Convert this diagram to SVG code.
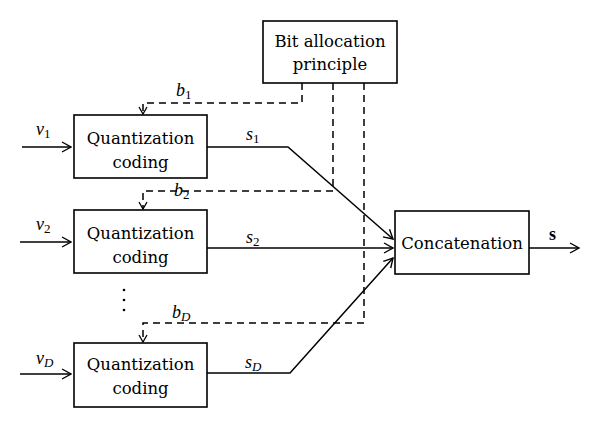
<svg xmlns="http://www.w3.org/2000/svg" width="600" height="428" viewBox="0 0 600 428">
<defs>
<marker id="arr" viewBox="0 0 12 12" refX="11" refY="6" markerWidth="12" markerHeight="12" markerUnits="userSpaceOnUse" orient="auto">
<path d="M2,1 L11,6 L2,11" fill="none" stroke="#000" stroke-width="1.4"/>
</marker>
<marker id="arrs" viewBox="0 0 10 10" refX="9" refY="5" markerWidth="10" markerHeight="10" markerUnits="userSpaceOnUse" orient="auto">
<path d="M2,1 L9,5 L2,9" fill="none" stroke="#000" stroke-width="1.3"/>
</marker>
</defs>
<style>
.box{fill:#fff;stroke:#000;stroke-width:1.6}
.nodetext{font-size:16.5px;fill:#000;text-anchor:middle}
.m{font-size:18px;font-style:italic;fill:#000}
.sub{font-size:13px;font-style:normal}
.subi{font-size:13px}
.solid{fill:none;stroke:#000;stroke-width:1.5}
.dash{fill:none;stroke:#000;stroke-width:1.5;stroke-dasharray:7,5}
</style>
<rect width="600" height="428" fill="#fff"/>
<g id="connectors" font-family="Liberation Serif, serif">
<path class="solid" d="M22,147 H71" marker-end="url(#arr)"/>
<path class="solid" d="M20,242 H71" marker-end="url(#arr)"/>
<path class="solid" d="M20,374 H71" marker-end="url(#arr)"/>
<path class="solid" d="M207,147 H288 L393,239" marker-end="url(#arr)"/>
<path class="solid" d="M207,248 H393" marker-end="url(#arr)"/>
<path class="solid" d="M207,373 H290 L393,258" marker-end="url(#arr)"/>
<path class="solid" d="M529,248 H579" marker-end="url(#arr)"/>
<path class="dash" d="M302,83 V103 H143 V114" marker-end="url(#arrs)"/>
<path class="dash" d="M333,83 V191 H143 V209" marker-end="url(#arrs)"/>
<path class="dash" d="M364,83 V323 H143 V342" marker-end="url(#arrs)"/>
<circle cx="124" cy="290" r="1.3" fill="#000"/>
<circle cx="124" cy="300" r="1.3" fill="#000"/>
<circle cx="124" cy="310" r="1.3" fill="#000"/>
<text class="m" x="176" y="96">b<tspan class="sub" dy="3">1</tspan></text>
<text class="m" x="174" y="196">b<tspan class="sub" dy="3">2</tspan></text>
<text class="m" x="172" y="318">b<tspan class="subi" dy="3">D</tspan></text>
<text class="m" x="246" y="140">s<tspan class="sub" dy="3">1</tspan></text>
<text class="m" x="246" y="243">s<tspan class="sub" dy="3">2</tspan></text>
<text class="m" x="245" y="368">s<tspan class="subi" dy="3">D</tspan></text>
<text class="m" x="36" y="135">v<tspan class="sub" dy="3">1</tspan></text>
<text class="m" x="36" y="230">v<tspan class="sub" dy="3">2</tspan></text>
<text class="m" x="36" y="364">v<tspan class="subi" dy="3">D</tspan></text>
<text x="549" y="240" font-size="18" font-weight="bold">s</text>
</g>
<g id="bit-allocation" font-family="DejaVu Serif, serif">
<rect class="box" x="263" y="21" width="134" height="62"/>
<text class="nodetext" x="330" y="47">Bit allocation</text>
<text class="nodetext" x="330" y="70">principle</text>
</g>
<g id="quant1" font-family="DejaVu Serif, serif">
<rect class="box" x="74" y="115" width="133" height="63"/>
<text class="nodetext" x="140.5" y="144">Quantization</text>
<text class="nodetext" x="140.5" y="168">coding</text>
</g>
<g id="quant2" font-family="DejaVu Serif, serif">
<rect class="box" x="74" y="210" width="133" height="63"/>
<text class="nodetext" x="140.5" y="239">Quantization</text>
<text class="nodetext" x="140.5" y="263">coding</text>
</g>
<g id="quantD" font-family="DejaVu Serif, serif">
<rect class="box" x="74" y="343" width="133" height="64"/>
<text class="nodetext" x="140.5" y="370">Quantization</text>
<text class="nodetext" x="140.5" y="394">coding</text>
</g>
<g id="concatenation" font-family="DejaVu Serif, serif">
<rect class="box" x="395" y="211" width="134" height="63"/>
<text class="nodetext" x="462" y="249">Concatenation</text>
</g>
</svg>
